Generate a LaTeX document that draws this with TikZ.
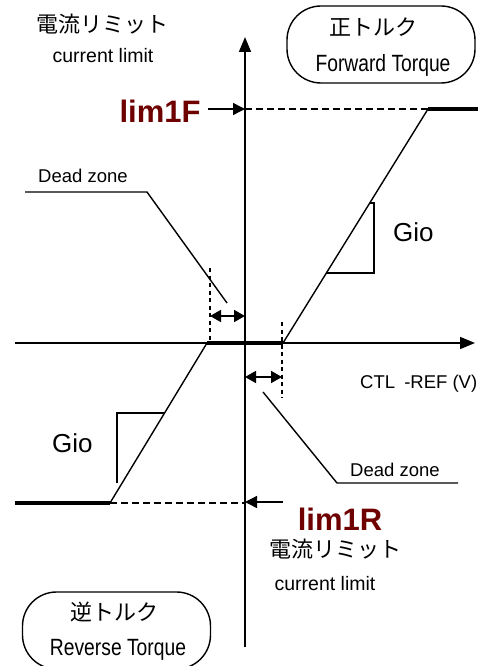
\documentclass[tikz,border=0pt]{standalone}
\usepackage{fontspec}
\setmainfont{Liberation Sans}
\newfontfamily\cjk{Noto Sans CJK JP}
\newfontfamily\narrowfont[FakeStretch=0.82]{Liberation Sans}
\usetikzlibrary{arrows.meta}
\definecolor{limred}{RGB}{110,0,0}
\begin{document}
\begin{tikzpicture}[x=1pt,y=-1pt,
  jp/.style={inner sep=0pt, font=\cjk\fontsize{22}{22}\selectfont},
  axisline/.style={line width=1.6pt, -{Triangle[length=15pt,width=12pt]}},
  thinline/.style={line width=1.4pt},
  heavy/.style={line width=4.5pt},
  guide/.style={line width=1.2pt, dash pattern=on 7pt off 4pt},
  dzmark/.style={line width=1.3pt, dash pattern=on 4pt off 3.5pt},
  limarrow/.style={line width=1.4pt, -{Triangle[length=12pt,width=12pt]}},
  dzarrow/.style={line width=1.6pt, {Triangle[length=11pt,width=12pt]}-{Triangle[length=11pt,width=12pt]}},
  torquebox/.style={draw, line width=1.4pt, rounded corners=34pt, minimum width=188pt, minimum height=77pt, inner sep=0pt},
  limtext/.style={inner sep=0pt, anchor=base, text=limred, font=\bfseries\fontsize{31}{31}\selectfont},
  smalltext/.style={inner sep=0pt, anchor=base west, font=\fontsize{18.5}{18.5}\selectfont},
  cltext/.style={inner sep=0pt, anchor=base, font=\fontsize{19.5}{19.5}\selectfont},
  giotext/.style={inner sep=0pt, anchor=base west, font=\fontsize{26}{26}\selectfont},
  narrowtext/.style={inner sep=0pt, anchor=base, font=\narrowfont\fontsize{23.5}{23.5}\selectfont}]
\useasboundingbox (0,0) rectangle (488,666);
\begin{scope}
\clip (0,0) rectangle (488,666);
% axes
\coordinate (yb) at (245,647);
\coordinate (yt) at (245,37);
\coordinate (xl) at (15,343);
\coordinate (xr) at (475,343);
\draw[axisline] (yb) -- (yt);
\draw[axisline] (xl) -- (xr);
% characteristic
\coordinate (A) at (15,503);
\coordinate (B) at (110,503);
\coordinate (C) at (207,343);
\coordinate (D) at (283,343);
\coordinate (E) at (428,109);
\coordinate (F) at (478,109);
\coordinate (yF) at (245,109);
\coordinate (yR) at (245,503);
\draw[guide] (E) -- (yF);
\draw[guide] (B) -- (yR);
\draw[thinline] (B) -- (C);
\draw[thinline] (D) -- (E);
\draw[heavy] (A) -- (B);
\draw[heavy] (C) -- (D);
\draw[heavy] (E) -- (F);
% limits
\node[limtext] (lim1F) at (160,122) {lim1F};
\coordinate (lfs) at (208,109);
\draw[limarrow] (lfs) -- (yF);
\node[limtext] (lim1R) at (340,530) {lim1R};
\coordinate (lrs) at (283,502);
\coordinate (lre) at (245,502);
\draw[limarrow] (lrs) -- (lre);
% Gio triangles
\coordinate (g1a) at (370,203);
\coordinate (g1b) at (374,203);
\coordinate (g1c) at (374,273);
\coordinate (g1d) at (326,273);
\draw[thinline] (g1a) -- (g1b) -- (g1c) -- (g1d);
\node[giotext] (gio1) at (393,241) {Gio};
\coordinate (g2a) at (117,483);
\coordinate (g2b) at (117,413);
\coordinate (g2c) at (165,413);
\draw[thinline] (g2a) -- (g2b) -- (g2c);
\node[giotext] (gio2) at (52,452) {Gio};
% dead zone upper-left
\node[smalltext] (dz1) at (38,182) {Dead zone};
\coordinate (d1a) at (25,192);
\coordinate (d1b) at (147,192);
\coordinate (d1c) at (227,303);
\draw[thinline] (d1a) -- (d1b) -- (d1c);
\coordinate (m1t) at (210,268);
\coordinate (m1b) at (210,343);
\draw[dzmark] (m1t) -- (m1b);
\coordinate (a1l) at (210,316);
\coordinate (a1r) at (245,316);
\draw[dzarrow] (a1l) -- (a1r);
% dead zone lower-right
\coordinate (m2t) at (282,322);
\coordinate (m2b) at (282,398);
\draw[dzmark] (m2t) -- (m2b);
\coordinate (a2l) at (245,377);
\coordinate (a2r) at (282,377);
\draw[dzarrow] (a2l) -- (a2r);
\coordinate (d2a) at (263,392);
\coordinate (d2b) at (337,483);
\coordinate (d2c) at (458,483);
\draw[thinline] (d2a) -- (d2b) -- (d2c);
\node[smalltext] (dz2) at (350,476) {Dead zone};
\node[smalltext] (ctl) at (360,388) {CTL\hspace{4pt} -REF (V)};
% current limit labels
\node[jp] (jp1) at (102,24) {電流リミット};
\node[cltext] (cl1) at (103,63) {current limit};
\node[jp] (jp2) at (335,549) {電流リミット};
\node[cltext] (cl2) at (325,590) {current limit};
% torque boxes
\node[torquebox] (fwdbox) at (381,44.5) {};
\node[jp] (fwdjp) at (373,27) {正トルク};
\node[narrowtext] (fwden) at (383,72) {Forward Torque};
\node[torquebox] (revbox) at (116.5,630.5) {};
\node[jp] (revjp) at (114,612) {逆トルク};
\node[narrowtext] (reven) at (118,655) {Reverse Torque};
\end{scope}
\end{tikzpicture}
\end{document}
